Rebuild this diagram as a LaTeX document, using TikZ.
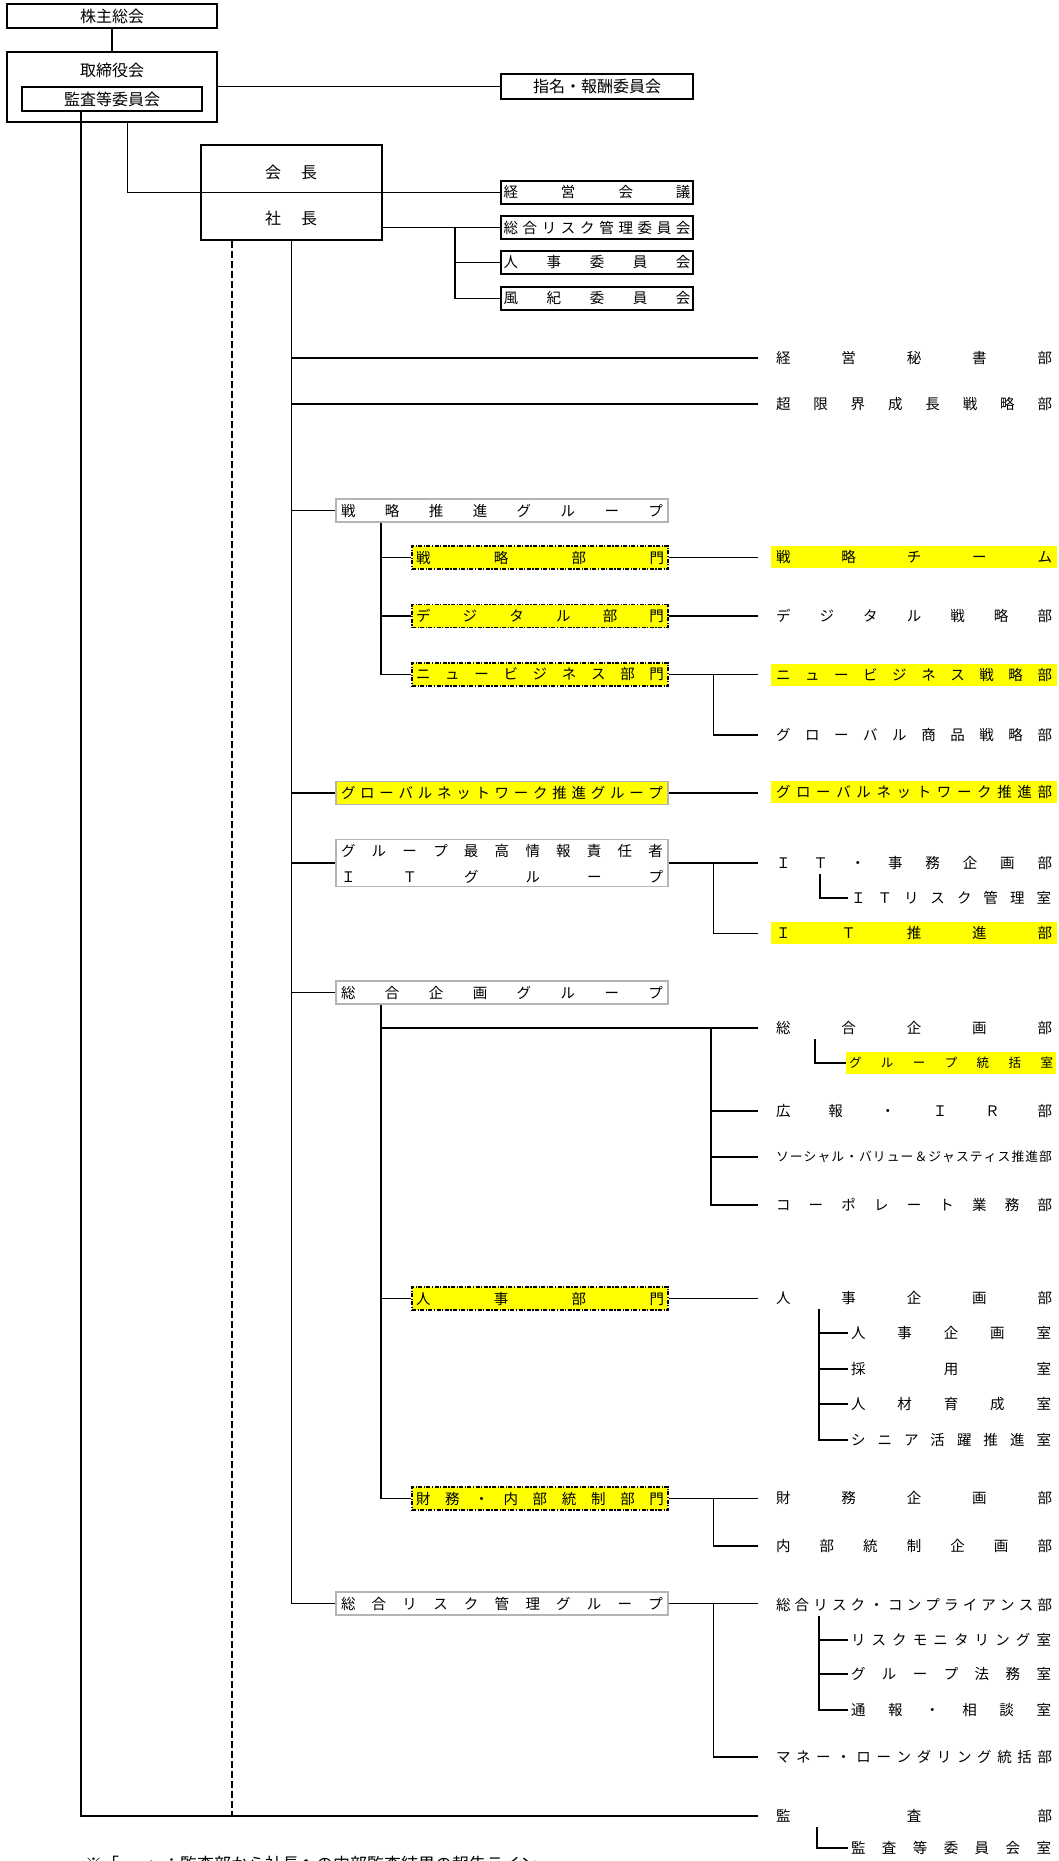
\documentclass[tikz,border=0pt]{standalone}
\usepackage{fontspec}
\setmainfont{Noto Sans CJK JP}
\definecolor{hly}{HTML}{FFFF00}
\definecolor{gb}{HTML}{B4B4B4}
\makeatletter
\newcommand\sprd[2]{\makebox[#1][s]{\sprd@a#2\relax}}
\def\sprd@a#1{\ifx#1\relax\else#1\expandafter\sprd@b\fi}
\def\sprd@b#1{\ifx#1\relax\else\hfill#1\expandafter\sprd@b\fi}
\makeatother
\newcommand\fsz[1]{\fontsize{#1pt}{#1pt}\selectfont}
\tikzset{
  topbox/.style={draw, line width=1.3pt, inner sep=0pt, font=\fsz{16}},
  lbl/.style={inner sep=0pt, font=\fsz{16}},
  cbox/.style={draw, line width=2pt, minimum width=192pt, minimum height=23pt, inner xsep=2.5pt, inner ysep=0pt, font=\fsz{14.5}},
  gbox/.style={draw=gb, line width=1.5pt, minimum width=332pt, minimum height=23pt, inner xsep=5pt, inner ysep=0pt, font=\fsz{14.5}},
  bbox/.style={draw, fill=hly, line width=1.2pt, dash pattern=on 4pt off 1.5pt on 1.2pt off 1.5pt, minimum width=256pt, minimum height=23pt, inner xsep=4pt, inner ysep=0pt, font=\fsz{14.5}},
  rcol/.style={anchor=west, inner xsep=5pt, inner ysep=0pt, minimum height=22pt, outer xsep=13pt, outer ysep=0pt, font=\fsz{14.5}},
  subc/.style={anchor=west, inner xsep=3pt, inner ysep=0pt, minimum height=22pt, outer sep=0pt, font=\fsz{14.5}},
  yel/.style={fill=hly},
  ln/.style={line width=1.8pt},
  mid/.style={line width=1.4pt},
  thinln/.style={line width=1pt},
  dsh/.style={line width=2pt, dash pattern=on 7pt off 3pt},
}
\begin{document}
\begin{tikzpicture}[x=1pt,y=-1pt]
\fill[white] (0,0) rectangle (1059,1861);
\useasboundingbox (0,0) rectangle (1059,1861);

% ---- top ----
\node[topbox, line width=2pt, minimum width=210pt, minimum height=24pt] (kabu) at (112,16) {株主総会};
\node[topbox, minimum width=210pt, minimum height=70pt] (tori) at (112,87) {};
\node[lbl] (toril) at (112,70) {取締役会};
\node[topbox, line width=2pt, minimum width=180pt, minimum height=24pt] (kansa) at (112,99) {監査等委員会};
\node[topbox, line width=1.8pt, minimum width=192pt, minimum height=25pt] (shimei) at (597,86.5) {指名・報酬委員会};

\node[topbox, line width=1.2pt, minimum width=181pt, minimum height=95pt] (kai) at (291.5,192.5) {};
\node[lbl] (kaichol) at (291,172) {\sprd{52pt}{会長}};
\node[lbl] (shachol) at (291,218) {\sprd{52pt}{社長}};

\node[cbox] (keiei) at (597,192) {\sprd{187pt}{経営会議}};
\node[cbox] (riskc) at (597,227.5) {\sprd{187pt}{総合リスク管理委員会}};
\node[cbox] (jinjic) at (597,262.5) {\sprd{187pt}{人事委員会}};
\node[cbox] (fukic) at (597,298.5) {\sprd{187pt}{風紀委員会}};

% ---- group / division boxes ----
\node[gbox] (sg) at (502,510.5) {\sprd{322pt}{戦略推進グループ}};
\node[bbox] (bm1) at (540,557.5) {\sprd{248pt}{戦略部門}};
\node[bbox] (bm2) at (540,616) {\sprd{248pt}{デジタル部門}};
\node[bbox] (bm3) at (540,674.5) {\sprd{248pt}{ニュービジネス部門}};
\node[gbox, fill=hly] (gng) at (502,793) {\sprd{322pt}{グローバルネットワーク推進グループ}};
\node[gbox, minimum height=47pt] (itg) at (502,863) {};
\node[lbl, font=\fsz{14.5}] (itg1) at (502,851) {\sprd{322pt}{グループ最高情報責任者}};
\node[lbl, font=\fsz{14.5}] (itg2) at (502,877) {\sprd{322pt}{ＩＴグループ}};
\node[gbox] (skg) at (502,992.5) {\sprd{322pt}{総合企画グループ}};
\node[bbox] (jinjib) at (540,1298.5) {\sprd{248pt}{人事部門}};
\node[bbox] (zaimu) at (540,1498.5) {\sprd{248pt}{財務・内部統制部門}};
\node[gbox] (rkg) at (502,1603.5) {\sprd{322pt}{総合リスク管理グループ}};

% ---- right column ----
\node[rcol] (hisho) at (758,358) {\sprd{276pt}{経営秘書部}};
\node[rcol] (choh) at (758,404) {\sprd{276pt}{超限界成長戦略部}};
\node[rcol, yel] (team) at (758,557) {\sprd{276pt}{戦略チーム}};
\node[rcol] (digi) at (758,616) {\sprd{276pt}{デジタル戦略部}};
\node[rcol, yel] (nb) at (758,675) {\sprd{276pt}{ニュービジネス戦略部}};
\node[rcol] (glp) at (758,735) {\sprd{276pt}{グローバル商品戦略部}};
\node[rcol, yel] (gnp) at (758,792) {\sprd{276pt}{グローバルネットワーク推進部}};
\node[rcol] (itj) at (758,863) {\sprd{276pt}{ＩＴ・事務企画部}};
\node[rcol, yel] (itp) at (758,933) {\sprd{276pt}{ＩＴ推進部}};
\node[rcol] (skb) at (758,1028) {\sprd{276pt}{総合企画部}};
\node[rcol] (koho) at (758,1111) {\sprd{276pt}{広報・ＩＲ部}};
\node[rcol, font=\fsz{12.8}] (social) at (758,1157) {\sprd{276pt}{ソーシャル・バリュー＆ジャスティス推進部}};
\node[rcol] (corp) at (758,1205) {\sprd{276pt}{コーポレート業務部}};
\node[rcol] (jkb) at (758,1298) {\sprd{276pt}{人事企画部}};
\node[rcol] (zkb) at (758,1498) {\sprd{276pt}{財務企画部}};
\node[rcol] (naibu) at (758,1546) {\sprd{276pt}{内部統制企画部}};
\node[rcol] (rcb) at (758,1605) {\sprd{276pt}{総合リスク・コンプライアンス部}};
\node[rcol] (money) at (758,1757) {\sprd{276pt}{マネー・ローンダリング統括部}};
\node[rcol] (kansabu) at (758,1816) {\sprd{276pt}{監査部}};

% ---- sub offices ----
\node[subc] (itr) at (848,898) {\sprd{200pt}{ＩＴリスク管理室}};
\node[subc, yel, font=\fsz{12.5}] (gtk) at (846,1063) {\sprd{204pt}{グループ統括室}};
\node[subc] (jks) at (848,1333) {\sprd{200pt}{人事企画室}};
\node[subc] (saiyo) at (848,1369) {\sprd{200pt}{採用室}};
\node[subc] (jinzai) at (848,1404) {\sprd{200pt}{人材育成室}};
\node[subc] (shinia) at (848,1440) {\sprd{200pt}{シニア活躍推進室}};
\node[subc] (rmon) at (848,1640) {\sprd{200pt}{リスクモニタリング室}};
\node[subc] (homu) at (848,1674) {\sprd{200pt}{グループ法務室}};
\node[subc] (tsuho) at (848,1710) {\sprd{200pt}{通報・相談室}};
\node[subc] (kiss) at (848,1848) {\sprd{200pt}{監査等委員会室}};

% ---- footer (cut by the page edge) ----
\node[anchor=west, inner sep=0pt, font=\fsz{17}] (note) at (85,1864) {※「\hspace{27pt}」：監査部から社長への内部監査結果の報告ライン};

% ---- connectors: top ----
\draw[ln] (kabu.south) -- (tori.north);
\draw[mid] (tori.east |- shimei.west) -- (shimei.west);
\coordinate (kaj) at ([xshift=15pt]tori.south);
\draw[thinln] (kaj) |- (keiei.west);
\draw[ln] (kai.east |- riskc.west) -- (riskc.west);
\path (riskc.west) ++(-45pt,0) coordinate (cj);
\draw[ln] (cj) |- (jinjic.west);
\draw[ln] (cj) |- (fukic.west);

% left line (audit) and dashed report line
\coordinate (lt) at ([xshift=-31pt]kansa.south);
\draw[ln] (lt) |- (kansabu.west);
\coordinate (dt) at ([xshift=-59.5pt]kai.south);
\draw[dsh] (dt) -- (dt |- kansabu.west);

% main spine
\draw[ln] (kai.south) |- (rkg.west);
\foreach \n in {hisho,choh} \draw[ln] (kai.south |- \n.west) -- (\n.west);
\foreach \n in {sg,gng,itg,skg} \draw[ln] (kai.south |- \n.west) -- (\n.west);

% strategy group
\coordinate (s1) at ([xshift=-121pt]sg.south);
\draw[ln] (s1) |- (bm3.west);
\draw[ln] (s1 |- bm1.west) -- (bm1.west);
\draw[ln] (s1 |- bm2.west) -- (bm2.west);
\draw[ln] (bm1.east) -- (bm1.east -| team.west);
\draw[ln] (bm2.east) -- (bm2.east -| digi.west);
\draw[ln] (bm3.east) -- (bm3.east -| nb.west);
\coordinate (n1) at ([xshift=45pt]bm3.east);
\draw[mid] (n1) |- (glp.west);

% global network
\draw[ln] (gng.east) -- (gng.east -| gnp.west);

% IT
\draw[ln] (itg.east) -- (itg.east -| itj.west);
\coordinate (i1) at ([xshift=45pt]itg.east);
\draw[thinln] (i1) |- (itp.west);
\draw[mid] ([xshift=62pt]itj.south west) |- (itr.west);

% corporate planning group
\coordinate (k1) at ([xshift=-121pt]skg.south);
\draw[ln] (k1) |- (zaimu.west);
\draw[ln] (k1 |- skb.west) -- (skb.west);
\draw[ln] (k1 |- jinjib.west) -- (jinjib.west);
\coordinate (k2) at ([xshift=-47pt]skb.west);
\draw[mid] (k2) |- (corp.west);
\draw[mid] (k2 |- koho.west) -- (koho.west);
\draw[mid] (k2 |- social.west) -- (social.west);
\draw[mid] ([xshift=57pt]skb.south west) |- (gtk.west);

% HR
\draw[ln] (jinjib.east) -- (jinjib.east -| jkb.west);
\coordinate (j1) at ([xshift=61pt]jkb.south west);
\draw[mid] (j1) |- (shinia.west);
\draw[mid] (j1 |- jks.west) -- (jks.west);
\draw[mid] (j1 |- saiyo.west) -- (saiyo.west);
\draw[mid] (j1 |- jinzai.west) -- (jinzai.west);

% finance
\draw[ln] (zaimu.east) -- (zaimu.east -| zkb.west);
\coordinate (z1) at ([xshift=45pt]zaimu.east);
\draw[mid] (z1) |- (naibu.west);

% risk group
\draw[ln] (rkg.east) -- (rkg.east -| rcb.west);
\coordinate (r1) at ([xshift=45pt]rkg.east);
\draw[mid] (r1) |- (money.west);
\coordinate (r2) at ([xshift=61pt]rcb.south west);
\draw[mid] (r2) |- (tsuho.west);
\draw[mid] (r2 |- rmon.west) -- (rmon.west);
\draw[mid] (r2 |- homu.west) -- (homu.west);

% audit office
\draw[mid] ([xshift=59pt]kansabu.south west) |- (kiss.west);
\end{tikzpicture}
\end{document}
